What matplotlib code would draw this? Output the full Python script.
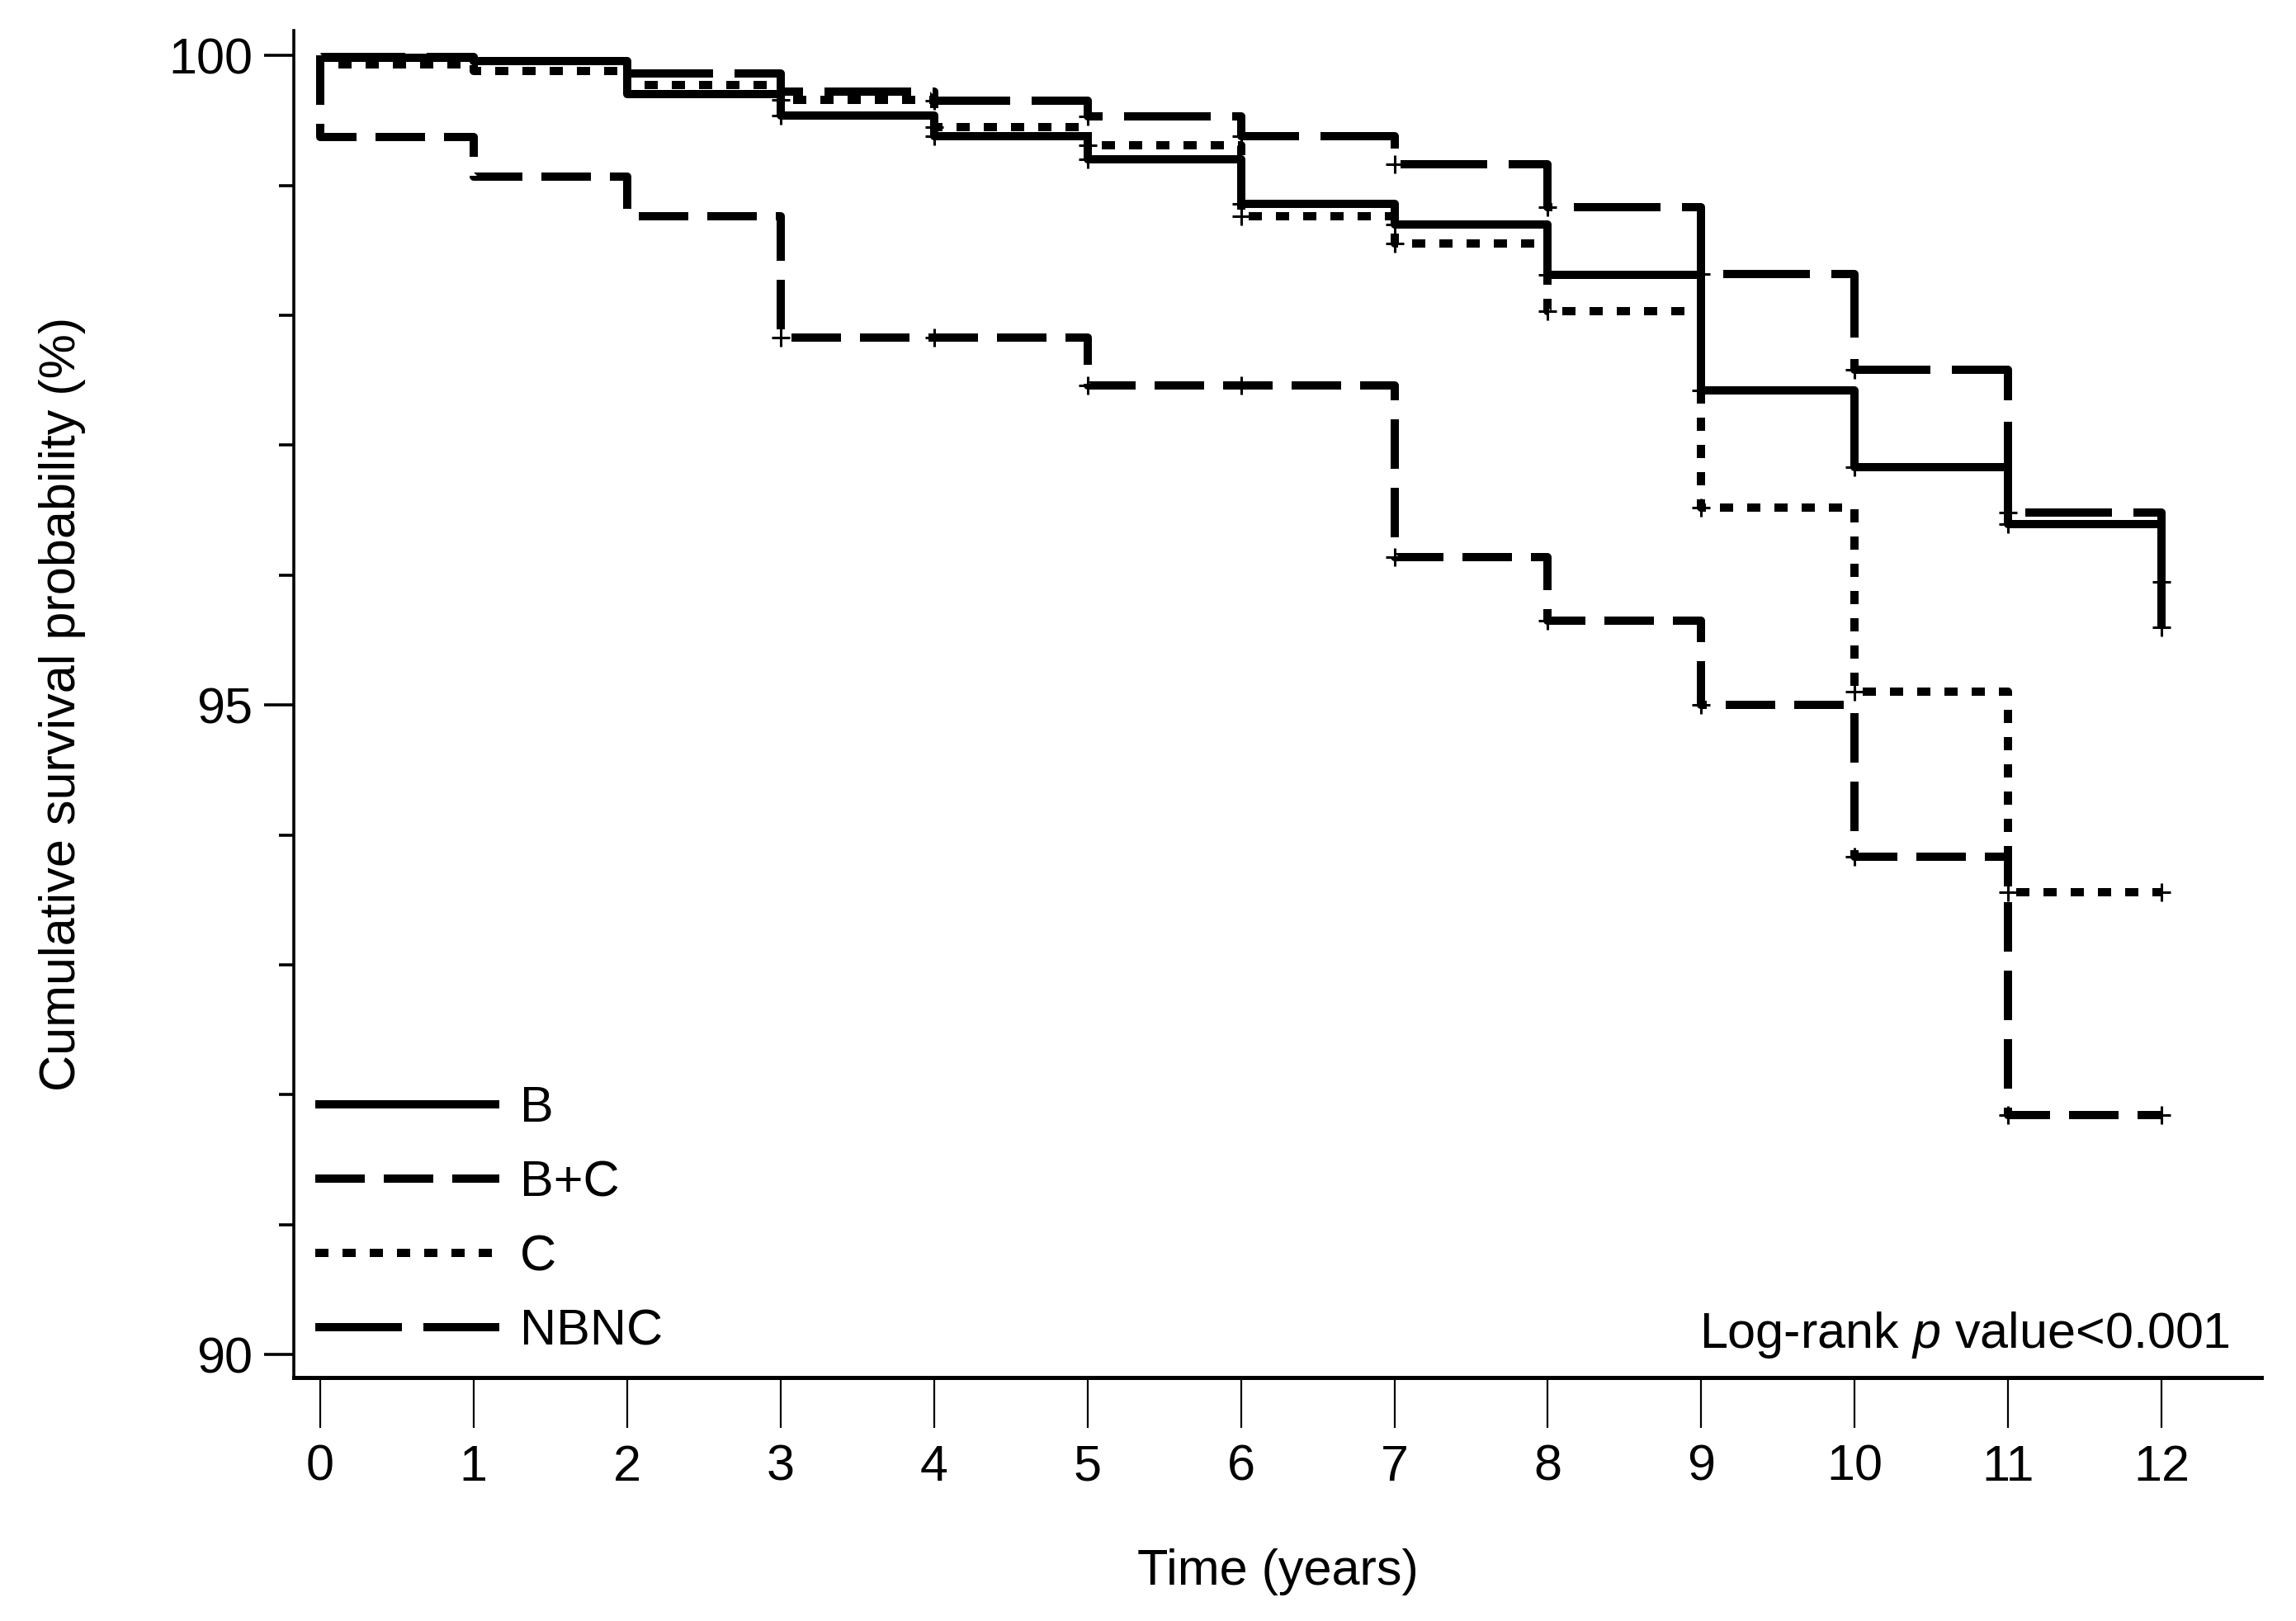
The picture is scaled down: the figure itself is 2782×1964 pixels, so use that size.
import matplotlib
matplotlib.use('Agg')
import matplotlib.pyplot as plt
from matplotlib.ticker import MultipleLocator

plt.rcParams['font.family'] = ['Liberation Sans', 'DejaVu Sans']
plt.rcParams['mathtext.fontset'] = 'custom'
plt.rcParams['mathtext.rm'] = 'Liberation Sans'
plt.rcParams['mathtext.it'] = 'Liberation Sans:italic'

# survival (%) on each yearly interval [t, t+1), last value = level after the drop at year 12
years = list(range(13))
surv_b = [99.98, 99.96, 99.70, 99.54, 99.38, 99.20, 98.86, 98.70, 98.31, 97.42, 96.83, 96.39, 95.60]
surv_bc = [99.37, 99.07, 98.76, 97.83, 97.83, 97.46, 97.46, 96.14, 95.65, 95.00, 93.83, 91.84, 91.84]
surv_c = [99.93, 99.88, 99.77, 99.66, 99.45, 99.31, 98.76, 98.55, 98.03, 96.52, 95.10, 93.56, 93.56]
surv_nbnc = [99.99, 99.96, 99.86, 99.72, 99.65, 99.53, 99.38, 99.16, 98.83, 98.32, 97.58, 96.48, 95.95]
censor_years = [3, 4, 5, 6, 7, 8, 9, 10, 11, 12]

groups = ['B', 'B+C', 'C', 'NBNC']
series = [surv_b, surv_bc, surv_c, surv_nbnc]
styles = ['-', (0, (6, 2.3)), (0, (1.6, 1.7)), (0, (10.5, 2.6))]

fig = plt.figure(figsize=(13.91, 9.82), dpi=200)
ax = fig.add_axes([0.128, 0.150, 0.857, 0.831])

lw = 3.6
for name, vals, ls in zip(groups, series, styles):
    x = [0] + years
    y = [100] + vals
    ax.step(x, y, where='post', color='black', lw=lw, linestyle=ls,
            solid_capstyle='butt', dash_capstyle='butt', label=name)
    cy = [vals[t] for t in censor_years]
    ax.plot(censor_years, cy, '+', color='black', ms=8, mew=1.1, ls='none')

ax.set_xlim(-0.17, 12.65)
ax.set_ylim(89.82, 100.19)
ax.set_xticks(years)
ax.set_yticks([90, 95, 100])
ax.yaxis.set_minor_locator(MultipleLocator(1))

for s in ['top', 'right']:
    ax.spines[s].set_visible(False)
ax.spines['left'].set_linewidth(1.3)
ax.spines['bottom'].set_linewidth(1.8)

ax.tick_params(axis='x', direction='out', length=22, width=0.8, pad=7, labelsize=22)
ax.tick_params(axis='y', which='major', direction='out', length=13, width=1.3, pad=5, labelsize=22)
ax.tick_params(axis='y', which='minor', direction='out', length=6.5, width=1.3)

ax.set_xlabel('Time (years)', fontsize=22, labelpad=25)
ax.set_ylabel('Cumulative survival probability (%)', fontsize=22, labelpad=36)

ax.legend(loc='lower left', bbox_to_anchor=(0.011, 0.0165), frameon=False, fontsize=22,
          handlelength=3.65, handletextpad=0.4, labelspacing=0.54, borderpad=0,
          borderaxespad=0)

ax.text(0.984, 0.032, 'Log-rank $p$ value<0.001', transform=ax.transAxes,
        ha='right', va='center', fontsize=22)

fig.savefig('out.png', dpi=200)
